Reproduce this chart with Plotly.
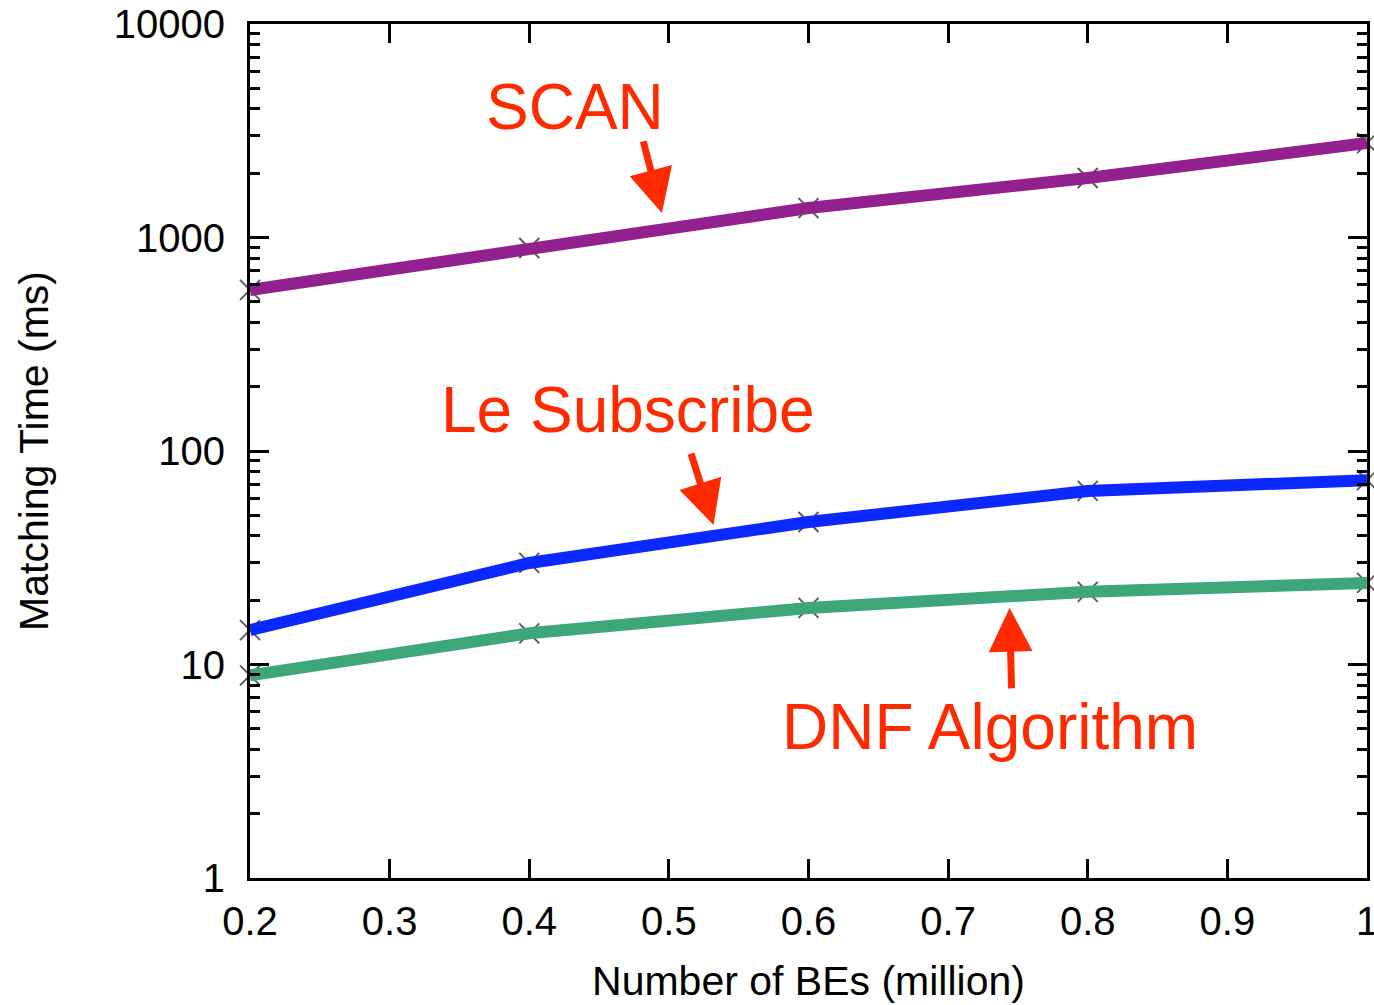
import plotly.graph_objects as go

x_vals = [0.2, 0.4, 0.6, 0.8, 1.0]
scan = [568, 893, 1374, 1900, 2770]
le_subscribe = [14.5, 29.9, 46.5, 65, 73]
dnf = [8.9, 14.0, 18.4, 21.9, 24.1]

series_names = ["SCAN", "Le Subscribe", "DNF Algorithm"]
series_colors = ["#93208F", "#0A28FF", "#3DA77A"]
x_ticks = [0.2, 0.3, 0.4, 0.5, 0.6, 0.7, 0.8, 0.9, 1.0]
x_tick_text = ["0.2", "0.3", "0.4", "0.5", "0.6", "0.7", "0.8", "0.9", "1"]
y_ticks = [1, 10, 100, 1000, 10000]
y_tick_text = ["1", "10", "100", "1000", "10000"]

FONT = "Liberation Sans, Arial, Helvetica, sans-serif"
RED = "#FF2A00"

fig = go.Figure()
all_series = [scan, le_subscribe, dnf]
for ys in all_series:
    fig.add_trace(go.Scatter(x=x_vals, y=ys, mode="markers", showlegend=False,
                             marker=dict(symbol="x-thin-open", size=20, color="#555555",
                                         line=dict(width=1.8, color="#555555")),
                             cliponaxis=False, hoverinfo="skip"))
for ys, name, col in zip(all_series, series_names, series_colors):
    fig.add_trace(go.Scatter(x=x_vals, y=ys, mode="lines", name=name, showlegend=False,
                             line=dict(color=col, width=12), cliponaxis=True))

tick_common = dict(ticks="inside", ticklen=19, tickwidth=3, tickcolor="black",
                   showgrid=False, zeroline=False, automargin=False,
                   ticklabeloverflow="allow",
                   tickfont=dict(family=FONT, size=40, color="black"),
                   title_font=dict(family=FONT, size=41, color="black"))
minor_y = dict(ticks="inside", ticklen=10, tickwidth=3, tickcolor="black",
               dtick="D1", showgrid=False)

fig.update_layout(
    xaxis=dict(range=[0.2, 1.0], tickvals=x_ticks, ticktext=x_tick_text,
               title_text="Number of BEs (million)", title_standoff=25,
               ticklabelstandoff=6, showline=True, linewidth=3, linecolor="black",
               mirror="ticks", **tick_common),
    yaxis=dict(type="log", range=[0, 4], tickvals=y_ticks, ticktext=y_tick_text,
               title_text="Matching Time (ms)", title_standoff=53,
               ticklabelstandoff=14, showline=True, linewidth=3, linecolor="black",
               mirror=True, minor=minor_y, **tick_common),
    yaxis2=dict(type="log", range=[0, 4], tickvals=y_ticks, showticklabels=False,
                overlaying="y", side="right", anchor="x", showline=False,
                minor=minor_y, **tick_common),
)
# invisible trace to activate right axis
fig.add_trace(go.Scatter(x=[x_vals[0]], y=[y_ticks[1]], yaxis="y2", mode="markers",
                         marker=dict(opacity=0), showlegend=False, hoverinfo="skip"))

# Text labels
labels = [("SCAN", 0.4328, 3.611), ("Le Subscribe", 0.4708, 2.19), ("DNF Algorithm", 0.7301, 0.708)]
for txt, xv, ylog in labels:
    fig.add_annotation(x=xv, y=ylog, xref="x", yref="y", text=txt, showarrow=False,
                       font=dict(family=FONT, size=64, color=RED), xanchor="center", yanchor="middle")

# Arrows
arrows = [(0.495, 3.115, -19, -73), (0.532, 1.653, -23, -73), (0.744, 1.265, 2, 82)]
for xv, ylog, ax, ay in arrows:
    fig.add_annotation(x=xv, y=ylog, xref="x", yref="y", text="", showarrow=True,
                       arrowhead=2, arrowsize=1.25, arrowwidth=7, arrowcolor=RED,
                       ax=ax, ay=ay, standoff=0)

fig.update_layout(width=1374, height=1005, plot_bgcolor="white", paper_bgcolor="white",
                  margin=dict(l=250, r=7, t=24, b=127), showlegend=False)

fig.write_html("out.html", config={"displayModeBar": False},
               post_script="document.body.style.margin='0';document.body.style.overflow='hidden';")
